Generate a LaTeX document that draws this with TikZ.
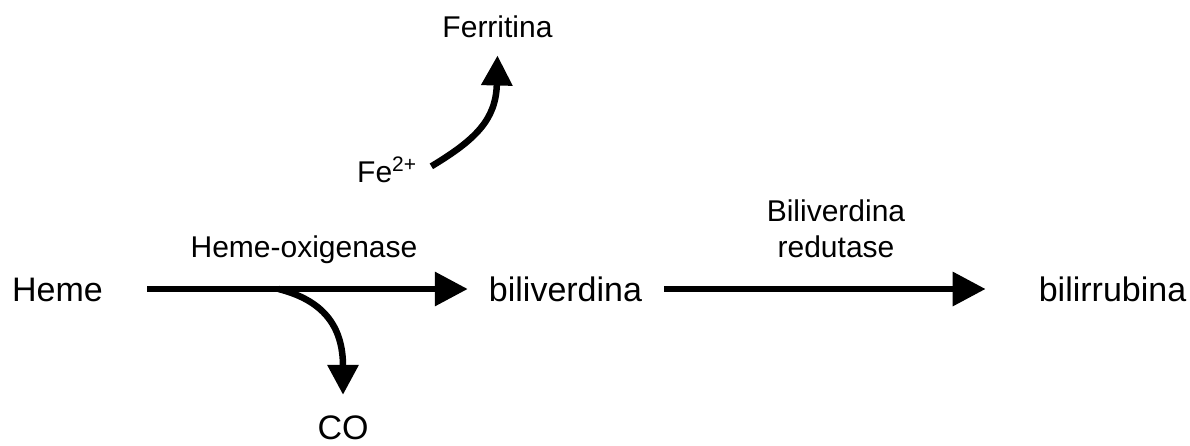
\documentclass[tikz,border=0pt]{standalone}
\usepackage{fontspec}
\setmainfont{Liberation Sans}
\usetikzlibrary{arrows.meta}
\begin{document}
\begin{tikzpicture}[x=1pt,y=-1pt,
  compound/.style={inner sep=0pt,font=\fontsize{34}{40}\selectfont,text height=24pt,text depth=0pt},
  enzyme/.style={inner sep=0pt,font=\fontsize{30}{36}\selectfont,align=center},
  reaction/.style={line width=6.5pt,-{Triangle[length=33pt,width=33pt]}},
  sidearrow/.style={line width=6.5pt,-{Triangle[length=30pt,width=30pt]}}]
\useasboundingbox (0,0) rectangle (1190,445);

% main pathway compounds
\node[compound] (heme) at (57.5,289) {Heme};
\node[compound] (biliv) at (565.5,289) {biliverdina};
\node[compound] (bilir) at (1112.5,289) {bilirrubina};

% by-products
\node[compound,anchor=base] (co) at (343,439) {CO};
\node[enzyme,anchor=base west] (fe) at (357,182) {Fe\raisebox{11pt}{\fontsize{21}{21}\selectfont 2+}};
\node[enzyme,anchor=base] (ferr) at (497.5,37) {Ferritina};

% enzymes (a two-line label sits on its last baseline)
\node[enzyme,anchor=base] (ho) at (304,257) {Heme-oxigenase};
\node[enzyme,anchor=base] (bvr) at (836,257) {Biliverdina\\redutase};

% reactions
\draw[reaction] ([xshift=44pt]heme.east) -- coordinate[pos=0.41] (cobr) ([xshift=-21pt]biliv.west);
\draw[reaction] ([xshift=22pt]biliv.east) -- ([xshift=-53pt]bilir.west);

% carbon monoxide release
\draw[sidearrow] (cobr) .. controls (322,300) and (343,325) .. ([yshift=20pt]co.north);

% iron to ferritin
\draw[sidearrow] ([xshift=15pt,yshift=3pt]fe.east) .. controls (475,140) and (496,120) .. ([yshift=-18pt]ferr.south);
\end{tikzpicture}
\end{document}
